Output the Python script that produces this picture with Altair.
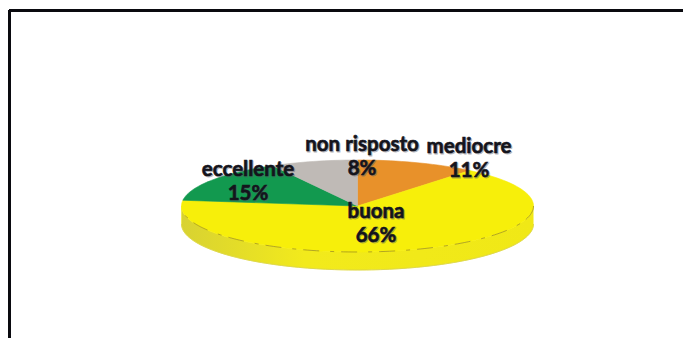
import math
import altair as alt
import pandas as pd

categories = ["mediocre", "buona", "eccellente", "non risposto"]
shares = [11, 66, 15, 8]
slice_colors = ["#e8912a", "#f7ef0a", "#12994f", "#bfbab6"]

# Disc geometry in page pixels
CX, CY, RX, RY, DEPTH = 357.5, 206.0, 176.0, 46.0, 18.0
W, H = 683, 338


def rim_point(turn, drop=0.0):
    a = 2 * math.pi * turn
    return CX + RX * math.sin(a), CY - RY * math.cos(a) + drop


# Top-face wedges, clockwise from twelve o'clock
rows = []
start = 0.0
for name, share in zip(categories, shares):
    stop = start + share / 100
    outline = [(CX, CY)]
    steps = max(4, share * 2)
    outline += [rim_point(start + (stop - start) * k / steps) for k in range(steps + 1)]
    outline.append((CX, CY))
    for i, (px, py) in enumerate(outline):
        rows.append({"name": name, "i": i, "px": px, "py": py})
    start = stop
wedges = pd.DataFrame(rows)

# Visible side of the disc: front half of the rim, dropped by the thickness
front = [rim_point(0.25 + 0.5 * k / 120) for k in range(121)]
lower = [rim_point(0.25 + 0.5 * k / 120, DEPTH) for k in range(121)]
side = front + lower[::-1]
side_df = pd.DataFrame([{"i": i, "px": p[0], "py": p[1]} for i, p in enumerate(side)])
front_edge = pd.DataFrame([{"i": i, "px": p[0], "py": p[1]} for i, p in enumerate(front)])
lower_edge = pd.DataFrame([{"i": i, "px": p[0], "py": p[1]} for i, p in enumerate(lower)])

x = alt.X("px:Q", scale=alt.Scale(domain=[0, W]), axis=None)
y = alt.Y("py:Q", scale=alt.Scale(domain=[H, 0]), axis=None)
order = alt.Order("i:Q")

side_layer = alt.Chart(side_df).mark_line(
    fill=alt.Gradient(
        gradient="linear", x1=0, x2=1, y1=0, y2=0,
        stops=[
            alt.GradientStop(color="#d8d232", offset=0),
            alt.GradientStop(color="#f2ea1c", offset=0.35),
            alt.GradientStop(color="#f0e816", offset=1),
        ],
    ),
    stroke="#f0e816",
    strokeWidth=0.5,
).encode(x=x, y=y, order=order)

lower_layer = alt.Chart(lower_edge).mark_line(
    stroke="#d8d250", strokeWidth=1, opacity=0.8
).encode(x=x, y=y, order=order)

wedge_scale = alt.Scale(domain=categories, range=slice_colors)
wedge_layer = alt.Chart(wedges).mark_line(strokeWidth=0.6).encode(
    x=x, y=y, order=order,
    detail="name:N",
    fill=alt.Fill("name:N", scale=wedge_scale, legend=None),
    stroke=alt.Stroke("name:N", scale=wedge_scale, legend=None),
)

edge_layer = alt.Chart(front_edge).mark_line(
    stroke="#6d5a2a", strokeWidth=0.9, strokeDash=[16, 7, 4, 11], opacity=0.55
).encode(x=x, y=y, order=order)

# Frame around the chart: top and left sides only reach the page edges
frame_top = pd.DataFrame({"px": [9], "px2": [W], "py": [10.5]})
frame_left = pd.DataFrame({"px": [9.5], "py": [10], "py2": [H]})
frame = alt.Chart(frame_top).mark_rule(color="#0a0a0f", strokeWidth=3).encode(
    x=x, x2="px2:Q", y=y
) + alt.Chart(frame_left).mark_rule(color="#0a0a0f", strokeWidth=3).encode(
    x=x, y=y, y2="py2:Q"
)

# Two-line slice labels: category name above its percentage
label_anchor = {
    "mediocre": (469, 147, 171),
    "buona": (376, 212, 236),
    "eccellente": (248, 170, 194),
    "non risposto": (362, 145, 169),
}
label_rows = []
for name, share in zip(categories, shares):
    ax, y1, y2 = label_anchor[name]
    label_rows.append({"px": ax, "py": y1, "t": name})
    label_rows.append({"px": ax, "py": y2, "t": f"{share}%"})
labels = pd.DataFrame(label_rows)

text_style = dict(font="Lato", fontWeight="bold", fontSize=20.5, align="center", baseline="middle")
shadow = alt.Chart(labels).mark_text(
    color="#5a5a66", stroke="#5a5a66", strokeWidth=0.8, opacity=0.45, dx=1, dy=1, **text_style
).encode(x=x, y=y, text="t:N")
ink = alt.Chart(labels).mark_text(
    color="#14141c", stroke="#14141c", strokeWidth=0.6, **text_style
).encode(x=x, y=y, text="t:N")

chart = (
    alt.layer(frame, side_layer, lower_layer, wedge_layer, edge_layer, shadow, ink)
    .properties(
        width=W, height=H, padding=0,
        autosize=alt.AutoSizeParams(type="none"),
        background="white",
    )
    .configure_view(stroke=None)
)
chart.save("out.html", embed_options={"renderer": "svg", "actions": False})
